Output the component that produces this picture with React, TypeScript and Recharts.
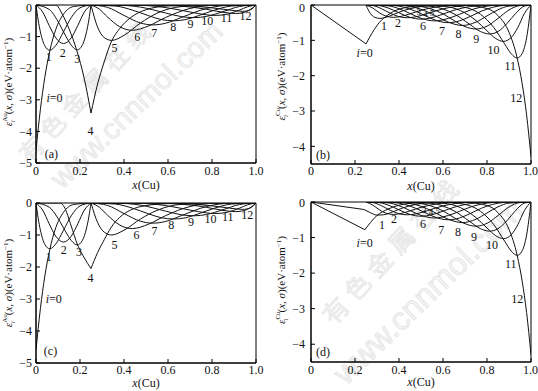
import React from "react";
import { ComposedChart, Line, Scatter, XAxis, YAxis, ReferenceArea } from "recharts";

type Pt = [number, number];
type Tag = { x: number; y: number; t: string; s?: number };

const SERIF = "'Liberation Serif', 'DejaVu Serif', serif";
const INK = "#111";

const xTicks = [0, 0.2, 0.4, 0.6, 0.8, 1.0];
const yTicksAu = [-5, -4, -3, -2, -1, 0];
const yTicksCu = [-4, -3, -2, -1, 0];

// (a) Au sublattice
const a0: Pt[] = [[0, -4.6], [0.02, -3.3], [0.04, -2.29], [0.0625, -1.46], [0.09, -0.77], [0.125, -0.29], [0.17, -0.05], [0.25, 0]];
const a1: Pt[] = [[0, 0], [0.01, -0.48], [0.02, -0.85], [0.04, -1.29], [0.0625, -1.43], [0.09, -1.28], [0.125, -0.85], [0.16, -0.4], [0.2, -0.09], [0.25, 0]];
const a2: Pt[] = [[0, 0], [0.03, -0.22], [0.06, -0.65], [0.09, -1.04], [0.125, -1.22], [0.16, -1.04], [0.19, -0.65], [0.22, -0.22], [0.25, 0]];
const a3: Pt[] = [[0, 0], [0.06, -0.14], [0.1, -0.52], [0.135, -0.98], [0.16, -1.27], [0.1875, -1.42], [0.21, -1.28], [0.23, -0.84], [0.24, -0.48], [0.25, 0]];
const a4L: Pt[] = [[0, 0], [0.09, 0], [0.12, -0.3], [0.15, -0.75], [0.185, -1.43], [0.22, -2.35], [0.25, -3.42]];
const a4R: Pt[] = [[0.25, -3.42], [0.28, -2.5], [0.31, -1.8], [0.34, -1.2], [0.38, -0.75], [0.43, -0.4], [0.5, -0.15], [0.6, -0.03], [0.75, 0], [1, 0]];
const a5: Pt[] = [[0.25, 0], [0.28, -0.7], [0.31, -1.03], [0.344, -1.12], [0.4, -0.96], [0.475, -0.57], [0.55, -0.26], [0.66, -0.05], [0.8, 0], [1, 0]];
const a6: Pt[] = [[0.25, 0], [0.2875, -0.13], [0.325, -0.38], [0.381, -0.69], [0.4375, -0.8], [0.5125, -0.66], [0.5875, -0.4], [0.7, -0.11], [0.8125, -0.01], [1, 0]];
const a7: Pt[] = [[0.25, 0], [0.325, -0.075], [0.4, -0.33], [0.475, -0.57], [0.531, -0.63], [0.5875, -0.58], [0.6625, -0.39], [0.775, -0.11], [0.8875, -0.006], [1, 0]];
const a8: Pt[] = [[0.25, 0], [0.3625, -0.034], [0.4375, -0.16], [0.5125, -0.34], [0.569, -0.46], [0.625, -0.5], [0.681, -0.46], [0.7375, -0.34], [0.8125, -0.16], [0.8875, -0.034], [1, 0]];
const a9: Pt[] = [[0.25, 0], [0.3625, -0.004], [0.475, -0.067], [0.5875, -0.25], [0.6625, -0.37], [0.719, -0.4], [0.775, -0.36], [0.85, -0.21], [0.925, -0.048], [1, 0]];
const a10: Pt[] = [[0.25, 0], [0.4375, -0.004], [0.55, -0.044], [0.6625, -0.17], [0.7375, -0.27], [0.8125, -0.33], [0.869, -0.29], [0.925, -0.16], [0.9625, -0.054], [1, 0]];
const a11: Pt[] = [[0.25, 0], [0.475, 0], [0.5875, -0.011], [0.7, -0.062], [0.775, -0.136], [0.85, -0.23], [0.906, -0.27], [0.94, -0.245], [0.97, -0.165], [1, 0]];
const a12: Pt[] = [[0.25, 0], [0.6, -0.008], [0.7, -0.03], [0.8, -0.09], [0.88, -0.16], [0.94, -0.2], [0.975, -0.15], [1, 0]];

// (c) Au sublattice, second case
const c3: Pt[] = [[0, 0], [0.06, -0.13], [0.1, -0.48], [0.135, -0.9], [0.16, -1.17], [0.1875, -1.31], [0.21, -1.18], [0.23, -0.78], [0.24, -0.44], [0.25, 0]];
const c4L: Pt[] = [[0, 0], [0.11, 0], [0.128, -0.12], [0.16, -0.72], [0.189, -1.31], [0.22, -1.72], [0.25, -2.05]];
const c4R: Pt[] = [[0.25, -2.05], [0.28, -1.55], [0.31, -1.15], [0.34, -0.78], [0.38, -0.45], [0.43, -0.22], [0.5, -0.08], [0.6, -0.02], [0.75, 0], [1, 0]];
const c5: Pt[] = [[0.25, 0], [0.28, -0.61], [0.31, -0.91], [0.344, -1.0], [0.4, -0.85], [0.475, -0.5], [0.55, -0.23], [0.66, -0.04], [0.8, 0], [1, 0]];

// (b) Cu sublattice
const b0L: Pt[] = [[0, 0], [0.25, -1.1]];
const b0R: Pt[] = [[0.25, -1.1], [0.28, -0.77], [0.31, -0.5], [0.35, -0.28], [0.4, -0.12], [0.5, -0.02], [0.6, 0], [1, 0]];
const b1: Pt[] = [[0.25, 0], [0.27, -0.24], [0.29, -0.35], [0.3125, -0.38], [0.34, -0.35], [0.37, -0.28], [0.42, -0.16], [0.48, -0.065], [0.56, -0.014], [0.7, 0], [1, 0]];
const b2: Pt[] = [[0.25, 0], [0.28, -0.083], [0.31, -0.217], [0.34, -0.313], [0.375, -0.35], [0.41, -0.32], [0.45, -0.25], [0.5, -0.15], [0.57, -0.054], [0.65, -0.011], [0.8, 0], [1, 0]];
const b3: Pt[] = [[0.25, 0], [0.28, -0.014], [0.32, -0.104], [0.36, -0.232], [0.4, -0.33], [0.4375, -0.36], [0.48, -0.33], [0.53, -0.24], [0.6, -0.11], [0.7, -0.017], [0.85, 0], [1, 0]];
const b4: Pt[] = [[0.25, 0], [0.3, -0.01], [0.35, -0.084], [0.4, -0.22], [0.45, -0.35], [0.5, -0.4], [0.55, -0.357], [0.6, -0.258], [0.65, -0.148], [0.7, -0.07], [0.75, -0.025], [0.85, -0.001], [1, 0]];
const b5: Pt[] = [[0.25, 0], [0.35, -0.024], [0.4, -0.104], [0.45, -0.24], [0.5, -0.375], [0.5625, -0.45], [0.6, -0.42], [0.65, -0.324], [0.7, -0.2], [0.75, -0.094], [0.8, -0.032], [0.85, -0.007], [1, 0]];
const b6: Pt[] = [[0.25, 0], [0.375, -0.015], [0.425, -0.067], [0.475, -0.175], [0.525, -0.32], [0.575, -0.45], [0.625, -0.5], [0.675, -0.45], [0.725, -0.32], [0.775, -0.175], [0.825, -0.067], [0.875, -0.015], [1, 0]];
const b7: Pt[] = [[0.25, 0], [0.4, -0.009], [0.45, -0.041], [0.5, -0.121], [0.55, -0.256], [0.6, -0.418], [0.65, -0.54], [0.6875, -0.58], [0.75, -0.484], [0.8, -0.309], [0.85, -0.135], [0.9, -0.031], [1, 0]];
const b8: Pt[] = [[0.25, 0], [0.4, -0.001], [0.5, -0.043], [0.55, -0.12], [0.6, -0.25], [0.65, -0.44], [0.7, -0.61], [0.75, -0.68], [0.8, -0.6], [0.85, -0.38], [0.9, -0.14], [0.95, -0.016], [1, 0]];
const b9: Pt[] = [[0.25, 0], [0.45, -0.005], [0.55, -0.04], [0.65, -0.25], [0.72, -0.54], [0.77, -0.75], [0.8125, -0.82], [0.85, -0.75], [0.89, -0.53], [0.93, -0.24], [0.97, -0.03], [1, 0]];
const b10: Pt[] = [[0.25, 0], [0.5, -0.003], [0.6, -0.032], [0.68, -0.16], [0.75, -0.44], [0.8, -0.73], [0.84, -0.95], [0.875, -1.03], [0.91, -0.92], [0.94, -0.64], [0.97, -0.24], [1, 0]];
const b11: Pt[] = [[0.25, 0], [0.6, -0.005], [0.69, -0.055], [0.77, -0.26], [0.83, -0.63], [0.88, -1.1], [0.91, -1.38], [0.9375, -1.5], [0.96, -1.37], [0.98, -0.93], [1, 0]];
const b12: Pt[] = [[0.25, 0], [0.7, -0.01], [0.8, -0.1], [0.85, -0.3], [0.9, -0.77], [0.9375, -1.51], [0.96, -2.23], [0.98, -3.11], [1, -4.3]];

// (d) Cu sublattice, second case
const d0L: Pt[] = [[0, 0], [0.245, -0.78]];
const d0R: Pt[] = [[0.245, -0.78], [0.27, -0.58], [0.3, -0.38], [0.35, -0.2], [0.4, -0.09], [0.5, -0.015], [0.6, 0], [1, 0]];
const d1L: Pt[] = [[0, 0], [0.24, -0.21]];
const d1R: Pt[] = [[0.24, -0.21], [0.27, -0.3], [0.3, -0.37], [0.33, -0.36], [0.37, -0.28], [0.42, -0.16], [0.48, -0.065], [0.56, -0.014], [0.7, 0], [1, 0]];

const tagsA: Tag[] = [
  { x: 0.058, y: -1.63, t: "1" }, { x: 0.122, y: -1.5, t: "2" }, { x: 0.187, y: -1.69, t: "3" },
  { x: 0.248, y: -3.98, t: "4" }, { x: 0.357, y: -1.34, t: "5" }, { x: 0.46, y: -1.0, t: "6" },
  { x: 0.537, y: -0.87, t: "7" }, { x: 0.624, y: -0.69, t: "8" }, { x: 0.702, y: -0.58, t: "9" },
  { x: 0.778, y: -0.5, t: "10" }, { x: 0.866, y: -0.4, t: "11" }, { x: 0.952, y: -0.35, t: "12" },
  { x: 0.084, y: -2.93, t: "i=0" }, { x: 0.07, y: -4.7, t: "(a)" },
];
const tagsC: Tag[] = [
  { x: 0.058, y: -1.68, t: "1" }, { x: 0.126, y: -1.45, t: "2" }, { x: 0.195, y: -1.54, t: "3" },
  { x: 0.248, y: -2.33, t: "4" }, { x: 0.357, y: -1.31, t: "5" }, { x: 0.457, y: -1.0, t: "6" },
  { x: 0.539, y: -0.86, t: "7" }, { x: 0.615, y: -0.67, t: "8" }, { x: 0.705, y: -0.58, t: "9" },
  { x: 0.793, y: -0.48, t: "10" }, { x: 0.872, y: -0.42, t: "11" }, { x: 0.96, y: -0.37, t: "12" },
  { x: 0.081, y: -3.0, t: "i=0" }, { x: 0.066, y: -4.63, t: "(c)" },
];
const tagsB: Tag[] = [
  { x: 0.244, y: -1.36, t: "i=0" }, { x: 0.332, y: -0.575, t: "1" }, { x: 0.395, y: -0.51, t: "2" },
  { x: 0.49, y: -0.2, t: "3", s: 9 }, { x: 0.52, y: -0.24, t: "4", s: 9 }, { x: 0.55, y: -0.22, t: "5", s: 9 },
  { x: 0.509, y: -0.575, t: "6" }, { x: 0.595, y: -0.74, t: "7" }, { x: 0.671, y: -0.81, t: "8" },
  { x: 0.751, y: -0.97, t: "9" }, { x: 0.83, y: -1.26, t: "10" }, { x: 0.906, y: -1.71, t: "11" },
  { x: 0.933, y: -2.63, t: "12" }, { x: 0.055, y: -4.23, t: "(b)" },
];
const tagsD: Tag[] = [
  { x: 0.244, y: -1.16, t: "i=0" }, { x: 0.323, y: -0.63, t: "1" }, { x: 0.377, y: -0.48, t: "2" },
  { x: 0.515, y: -0.23, t: "3", s: 9 }, { x: 0.545, y: -0.27, t: "4", s: 9 }, { x: 0.575, y: -0.25, t: "5", s: 9 },
  { x: 0.509, y: -0.6, t: "6" }, { x: 0.592, y: -0.77, t: "7" }, { x: 0.668, y: -0.85, t: "8" },
  { x: 0.741, y: -0.99, t: "9" }, { x: 0.823, y: -1.21, t: "10" }, { x: 0.908, y: -1.73, t: "11" },
  { x: 0.938, y: -2.73, t: "12" }, { x: 0.055, y: -4.2, t: "(d)" },
];

const curvesA = [a0, a1, a2, a3, a4L, a4R, a5, a6, a7, a8, a9, a10, a11, a12];
const curvesC = [a0, a1, a2, c3, c4L, c4R, c5, a6, a7, a8, a9, a10, a11, a12];
const curvesB = [b0L, b0R, b1, b2, b3, b4, b5, b6, b7, b8, b9, b10, b11, b12];
const curvesD = [d0L, d0R, d1L, d1R, b2, b3, b4, b5, b6, b7, b8, b9, b10, b11, b12];

const watermarks = [
  { text: "有色金属在线", x: 30, y: 164, a: -47, size: 24, font: "'Noto Sans CJK SC', sans-serif", ls: 7 },
  { text: "www.cnnmol.com", x: 62, y: 190, a: -44, size: 29, font: "'Liberation Sans', Arial, sans-serif", ls: 0 },
  { text: "有色金属在线", x: 334, y: 326, a: -47, size: 25, font: "'Noto Sans CJK SC', sans-serif", ls: 7 },
  { text: "www.cnnmol.com", x: 346, y: 386, a: -44, size: 32, font: "'Liberation Sans', Arial, sans-serif", ls: 0 },
];

const fmtX = (v: number) => (v === 0 ? "0" : v.toFixed(1));
const fmtY = (v: number) => (v < 0 ? "\u2212" + Math.abs(v) : String(v));
const rows = (pts: Pt[]) => pts.map(([x, y]) => ({ x, y }));

const renderTag = (p: any) => {
  const { cx, cy, payload } = p;
  const t: string = payload.t;
  return (
    <text x={cx} y={cy} dy="0.35em" textAnchor="middle" fontSize={payload.s ?? 12} fontFamily={SERIF} fill={INK}>
      {t.startsWith("i=") ? (
        <>
          <tspan fontStyle="italic">i</tspan>
          <tspan>{t.slice(1)}</tspan>
        </>
      ) : (
        t
      )}
    </text>
  );
};

const makeYLabel = (el: string, dx: number, dyc: number) => (props: any) => {
  const vb = props.viewBox;
  const cx = vb.x + dx;
  const cy = vb.y + vb.height / 2 + dyc;
  return (
    <text x={cx} y={cy} transform={`rotate(-90 ${cx} ${cy})`} textAnchor="middle" fontSize={11} fontFamily={SERIF} fill={INK}>
      <tspan fontStyle="italic">ε</tspan>
      <tspan fontSize={7} dy={-5}>{el}</tspan>
      <tspan fontSize={7} fontStyle="italic" dx={el.length * -4.5} dy={8}>i</tspan>
      <tspan dx={el.length * 3} dy={-3}>(</tspan>
      <tspan fontStyle="italic">x</tspan>
      <tspan>, </tspan>
      <tspan fontStyle="italic">σ</tspan>
      <tspan>)(eV·atom</tspan>
      <tspan fontSize={7} dy={-4}>−1</tspan>
      <tspan dy={4}>)</tspan>
    </text>
  );
};

const makeXLabel = (dy: number) => (props: any) => {
  const vb = props.viewBox;
  return (
    <text x={vb.x + vb.width / 2} y={vb.y + dy} textAnchor="middle" fontSize={12} fontFamily={SERIF} fill={INK}>
      <tspan fontStyle="italic">x</tspan>
      <tspan>(Cu)</tspan>
    </text>
  );
};

type PanelProps = {
  left: number;
  top: number;
  h: number;
  mt: number;
  mr: number;
  yw: number;
  xh: number;
  yMin: number;
  yTicks: number[];
  tmx: number;
  tmy: number;
  el: string;
  ldx: number;
  ldy: number;
  xdy: number;
  curves: Pt[][];
  tags: Tag[];
};

function Panel(p: PanelProps) {
  const tick = { fill: INK, fontSize: 12, fontFamily: SERIF };
  return (
    <div style={{ position: "absolute", left: p.left, top: p.top }}>
      <ComposedChart width={270} height={p.h} margin={{ top: p.mt, right: p.mr, bottom: 0, left: 0 }}>
        <XAxis
          type="number"
          dataKey="x"
          domain={[0, 1]}
          ticks={xTicks}
          tickFormatter={fmtX}
          allowDataOverflow
          height={p.xh}
          tickSize={-4}
          tickMargin={p.tmx}
          stroke="#000"
          tick={tick}
          label={makeXLabel(p.xdy)}
        />
        <YAxis
          type="number"
          domain={[p.yMin, 0]}
          ticks={p.yTicks}
          tickFormatter={fmtY}
          allowDataOverflow
          width={p.yw}
          tickSize={-4}
          tickMargin={p.tmy}
          stroke="#000"
          tick={tick}
          label={makeYLabel(p.el, p.ldx, p.ldy)}
        />
        <ReferenceArea x1={0} x2={1} y1={p.yMin} y2={0} fill="none" fillOpacity={0} stroke="#000" strokeWidth={1} ifOverflow="visible" />
        {p.curves.map((c, k) => (
          <Line
            key={k}
            data={rows(c)}
            dataKey="y"
            type="monotone"
            stroke={INK}
            strokeWidth={1}
            dot={false}
            activeDot={false}
            isAnimationActive={false}
          />
        ))}
        <Scatter data={p.tags} dataKey="y" shape={renderTag} isAnimationActive={false} />
      </ComposedChart>
    </div>
  );
}

export default function App() {
  return (
    <div style={{ position: "absolute", left: 0, top: 0, width: 538, height: 391, background: "#fff", overflow: "hidden" }}>
      <svg width={538} height={391} style={{ position: "absolute", left: 0, top: 0 }}>
        {watermarks.map((w, k) => (
          <text
            key={k}
            x={w.x}
            y={w.y}
            transform={`rotate(${w.a} ${w.x} ${w.y})`}
            fontSize={w.size}
            fontFamily={w.font}
            letterSpacing={w.ls}
            fill="#f4f4f4"
            stroke="#e0e0e0"
            strokeWidth={0.6}
          >
            {w.text}
          </text>
        ))}
      </svg>
      <Panel left={0} top={0} h={195} mt={5} mr={14} yw={36} xh={32} yMin={-5} yTicks={yTicksAu} tmx={7} tmy={8}
        el="Au" ldx={12} ldy={-2} xdy={26} curves={curvesA} tags={tagsA} />
      <Panel left={268} top={0} h={195} mt={5} mr={7} yw={43} xh={31} yMin={-4.5} yTicks={yTicksCu} tmx={6} tmy={10}
        el="Cu" ldx={17} ldy={-8} xdy={26} curves={curvesB} tags={tagsB} />
      <Panel left={0} top={195} h={196} mt={8} mr={14} yw={36} xh={28} yMin={-5} yTicks={yTicksAu} tmx={6} tmy={8}
        el="Au" ldx={12} ldy={0} xdy={24} curves={curvesC} tags={tagsC} />
      <Panel left={268} top={195} h={196} mt={7} mr={7} yw={43} xh={29} yMin={-4.5} yTicks={yTicksCu} tmx={7} tmy={10}
        el="Cu" ldx={17} ldy={-2} xdy={24} curves={curvesD} tags={tagsD} />
    </div>
  );
}
